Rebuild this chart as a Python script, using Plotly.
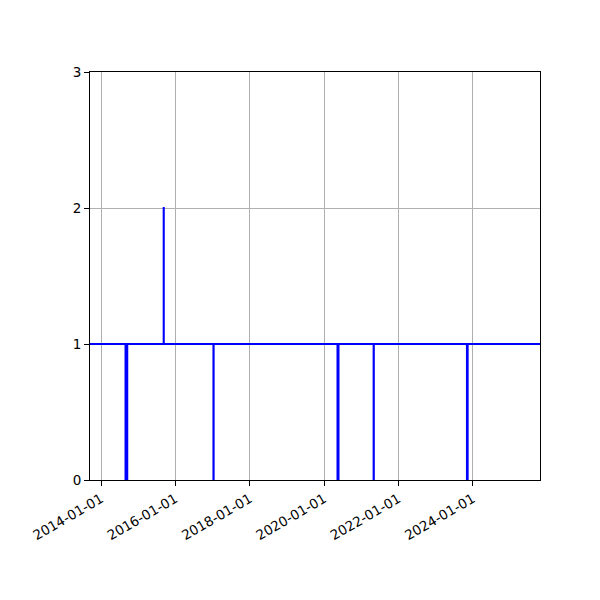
import plotly.graph_objects as go

# step series: each value holds until the next date
dates = ["2013-09-14", "2014-08-29", "2014-09-15", "2015-09-08", "2015-09-09",
         "2017-01-09", "2017-01-11", "2020-05-12", "2020-05-22", "2021-05-02",
         "2021-05-04", "2023-11-05", "2023-11-12", "2025-10-23"]
values = [1, 0, 1, 2, 1, 0, 1, 0, 1, 0, 1, 0, 1, 1]

tick_dates = ["2014-01-01", "2016-01-01", "2018-01-01", "2020-01-01",
              "2022-01-01", "2024-01-01"]
y_ticks = [0, 1, 2, 3]

fig = go.Figure()
fig.add_trace(go.Scatter(x=dates, y=values, mode="lines", line_shape="hv",
                         line=dict(color="#0000ff", width=2), showlegend=False))

axis_font = dict(family="DejaVu Sans", size=13.5, color="black")
fig.update_xaxes(type="date", range=["2013-09-14", "2025-10-23"],
                 tickvals=tick_dates, ticktext=tick_dates, tickangle=-30,
                 ticks="outside", ticklen=5, tickcolor="black",
                 showline=True, linecolor="black", linewidth=1, mirror=True,
                 showgrid=True, gridcolor="#b0b0b0", gridwidth=1,
                 zeroline=False, tickfont=axis_font)
fig.update_yaxes(range=[0, 3], tickvals=y_ticks,
                 ticks="outside", ticklen=5, tickcolor="black",
                 showline=True, linecolor="black", linewidth=1, mirror=True,
                 showgrid=True, gridcolor="#b0b0b0", gridwidth=1,
                 zeroline=False, tickfont=axis_font)
# page body adds an 8px offset, so margins are shifted to compensate
fig.update_layout(width=600, height=600, plot_bgcolor="white", paper_bgcolor="white",
                  margin=dict(l=82, r=68, t=64, b=128), showlegend=False)

fig.write_html("out.html")
